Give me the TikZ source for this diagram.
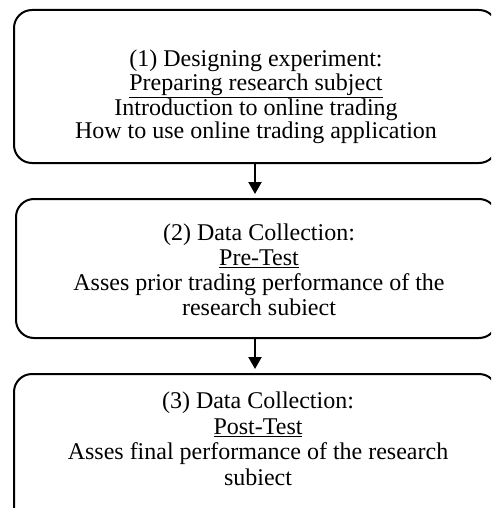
\documentclass[tikz,border=0pt]{standalone}
\usepackage{fontspec}
\setmainfont{Liberation Serif}
\usetikzlibrary{arrows.meta}
\begin{document}
\begin{tikzpicture}[x=1pt,y=-1pt,
  stagebox/.style={draw=black,line width=2pt,rounded corners=18pt,rectangle,inner sep=0pt},
  stagetext/.style={align=center,anchor=north,inner sep=0pt,font=\fontsize{24}{#1}\selectfont},
  flow/.style={line width=2.2pt,-{Triangle[length=12pt,width=13pt]},shorten >=4pt}]
\clip (0,0) rectangle (491,508);
\useasboundingbox (0,0) rectangle (491,508);
\node[stagebox,minimum width=483pt,minimum height=153pt] (b1) at (255.5,86.5) {};
\node[stagebox,minimum width=481pt,minimum height=139pt] (b2) at (256.5,268.5) {};
\node[stagebox,minimum width=483pt,minimum height=156pt] (b3) at (255.5,452) {};
\node[stagetext=23.6] (t1) at (256,50) {(1) Designing experiment:\\\underline{Preparing research subject}\\Introduction to online trading\\How to use online trading application};
\node[stagetext=25] (t2) at (259,224) {(2) Data Collection:\\\underline{Pre-Test}\\Asses prior trading performance of the\\research subiect};
\node[stagetext=25.5] (t3) at (258,392) {(3) Data Collection:\\\underline{Post-Test}\\Asses final performance of the research\\subiect};
\draw[flow] (b1.south -| 255,0) -- (b2.north -| 255,0);
\draw[flow] (b2.south -| 255,0) -- (b3.north -| 255,0);
\end{tikzpicture}
\end{document}
